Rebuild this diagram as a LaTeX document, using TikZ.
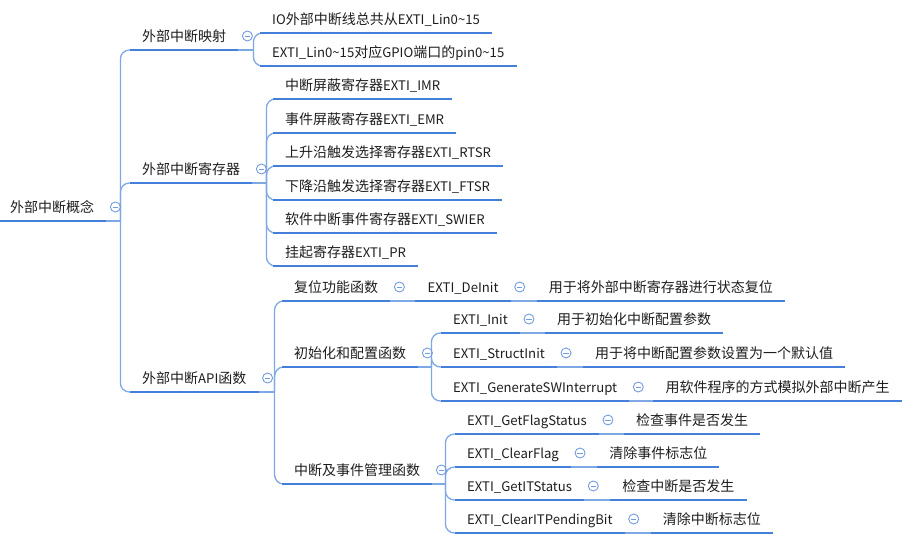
\documentclass[tikz,border=0pt]{standalone}
\usepackage{fontspec}
\setmainfont{Noto Sans CJK SC}[Scale=0.94]
\newfontfamily\cjkf{Noto Sans CJK SC}
\XeTeXinterchartokenstate=1
\newXeTeXintercharclass\cjkclass
\makeatletter
\count@="3000
\loop
  \XeTeXcharclass\count@=\cjkclass
  \advance\count@ by 1
\ifnum\count@<"A000 \repeat
\count@="FF00
\loop
  \XeTeXcharclass\count@=\cjkclass
  \advance\count@ by 1
\ifnum\count@<"FFEF \repeat
\makeatother
\XeTeXinterchartoks 0 \cjkclass = {\begingroup\cjkf}
\XeTeXinterchartoks 4095 \cjkclass = {\begingroup\cjkf}
\XeTeXinterchartoks \cjkclass 0 = {\endgroup}
\XeTeXinterchartoks \cjkclass 4095 = {\endgroup}
\usetikzlibrary{calc}
\definecolor{ulinec}{RGB}{68,128,218}
\definecolor{connc}{RGB}{125,168,228}
\definecolor{circc}{RGB}{115,155,222}
\definecolor{txtc}{RGB}{30,30,30}
\begin{document}
\begin{tikzpicture}[x=1pt,y=-1pt,
  topic/.style={anchor=south west, inner xsep=12pt, inner ysep=5pt, text height=10pt, text depth=3.5pt, font=\fontsize{14}{16}\selectfont, text=txtc},
  uline/.style={draw=ulinec, line width=2.6pt},
  conn/.style={draw=connc, line width=1.3pt},
  rc/.style={conn, rounded corners=9pt},
  collapse/.style={circle, draw=circc, line width=0.9pt, minimum size=10pt, inner sep=0pt,
    path picture={\draw[circc, line width=0.9pt] ([xshift=-2.6pt]path picture bounding box.center) -- ([xshift=2.6pt]path picture bounding box.center);}}
]
\useasboundingbox (0,0) rectangle (907,548);
% root and level 1
\node[topic] (root) at (-2,221) {外部中断概念};
\node[topic] (m1) at (130,50) {外部中断映射};
\node[topic] (m2) at (130,183) {外部中断寄存器};
\node[topic] (m3) at (130,392) {外部中断API函数};
% level 2 : mapping
\node[topic] (p1) at (260,33) {IO外部中断线总共从EXTI\_Lin0\textasciitilde 15};
\node[topic] (p2) at (260,66) {EXTI\_Lin0\textasciitilde 15对应GPIO端口的pin0\textasciitilde 15};
% level 2 : registers
\node[topic] (r1) at (273,99) {中断屏蔽寄存器EXTI\_IMR};
\node[topic] (r2) at (273,133) {事件屏蔽寄存器EXTI\_EMR};
\node[topic] (r3) at (273,166) {上升沿触发选择寄存器EXTI\_RTSR};
\node[topic] (r4) at (273,200) {下降沿触发选择寄存器EXTI\_FTSR};
\node[topic] (r5) at (273,233) {软件中断事件寄存器EXTI\_SWIER};
\node[topic] (r6) at (273,266) {挂起寄存器EXTI\_PR};
% level 2 : API
\node[topic] (a1) at (282,301) {复位功能函数};
\node[topic] (a2) at (282,367) {初始化和配置函数};
\node[topic] (a3) at (282,484) {中断及事件管理函数};
% level 3
\node[topic] (b1) at ([xshift=25pt]a1.south east) {EXTI\_DeInit};
\node[topic] (b2) at (441,333) {EXTI\_Init};
\node[topic] (b3) at (441,367) {EXTI\_StructInit};
\node[topic] (b4) at (441,401) {EXTI\_GenerateSWInterrupt};
\node[topic] (b5) at (455,434) {EXTI\_GetFlagStatus};
\node[topic] (b6) at (455,467) {EXTI\_ClearFlag};
\node[topic] (b7) at (455,500) {EXTI\_GetITStatus};
\node[topic] (b8) at (455,533) {EXTI\_ClearITPendingBit};
% level 4
\node[topic] (d1) at ([xshift=26pt]b1.south east) {用于将外部中断寄存器进行状态复位};
\node[topic] (d2) at ([xshift=25pt]b2.south east) {用于初始化中断配置参数};
\node[topic] (d3) at ([xshift=26pt]b3.south east) {用于将中断配置参数设置为一个默认值};
\node[topic] (d4) at ([xshift=24pt]b4.south east) {用软件程序的方式模拟外部中断产生};
\node[topic] (d5) at ([xshift=25pt]b5.south east) {检查事件是否发生};
\node[topic] (d6) at ([xshift=26pt]b6.south east) {清除事件标志位};
\node[topic] (d7) at ([xshift=26pt]b7.south east) {检查中断是否发生};
\node[topic] (d8) at ([xshift=26pt]b8.south east) {清除中断标志位};
% junctions
\coordinate (j0) at ([xshift=14pt]root.south east);
\coordinate (j1) at ([xshift=15pt]m1.south east);
\coordinate (j2) at ([xshift=14pt]m2.south east);
\coordinate (j3) at ([xshift=16pt]m3.south east);
\coordinate (j4) at ([xshift=13pt]a2.south east);
\coordinate (j5) at ([xshift=13pt]a3.south east);
% connectors
\draw[conn] (root.south east) -- (j0);
\foreach \c in {m1,m2,m3} \draw[rc] (j0) |- (\c.south west);
\draw[conn] (m1.south east) -- (j1);
\foreach \c in {p1,p2} \draw[rc] (j1) |- (\c.south west);
\draw[conn] (m2.south east) -- (j2);
\foreach \c in {r1,r2,r3,r4,r5,r6} \draw[rc] (j2) |- (\c.south west);
\draw[conn] (m3.south east) -- (j3);
\foreach \c in {a1,a2,a3} \draw[rc] (j3) |- (\c.south west);
\draw[conn] (a2.south east) -- (j4);
\foreach \c in {b2,b3,b4} \draw[rc] (j4) |- (\c.south west);
\draw[conn] (a3.south east) -- (j5);
\foreach \c in {b5,b6,b7,b8} \draw[rc] (j5) |- (\c.south west);
\draw[conn] (a1.south east) -- (b1.south west);
\draw[conn] (b1.south east) -- (d1.south west);
\draw[conn] (b2.south east) -- (d2.south west);
\draw[conn] (b3.south east) -- (d3.south west);
\draw[conn] (b4.south east) -- (d4.south west);
\draw[conn] (b5.south east) -- (d5.south west);
\draw[conn] (b6.south east) -- (d6.south west);
\draw[conn] (b7.south east) -- (d7.south west);
\draw[conn] (b8.south east) -- (d8.south west);
% underlines
\foreach \n in {root,m1,m2,m3,p1,p2,r1,r2,r3,r4,r5,r6,a1,a2,a3,b1,b2,b3,b4,b5,b6,b7,b8,d1,d2,d3,d4,d5,d6,d7,d8}
  \draw[uline] (\n.south west) -- (\n.south east);
% collapse markers
\foreach \n/\k in {root/c0,m1/c1,m2/c2,m3/c3,a1/c4,a2/c5,a3/c6,b1/c7,b2/c8,b3/c9,b4/c10,b5/c11,b6/c12,b7/c13,b8/c14}
  \node[collapse] (\k) at ([xshift=9pt,yshift=14pt]\n.south east) {};
\end{tikzpicture}
\end{document}
